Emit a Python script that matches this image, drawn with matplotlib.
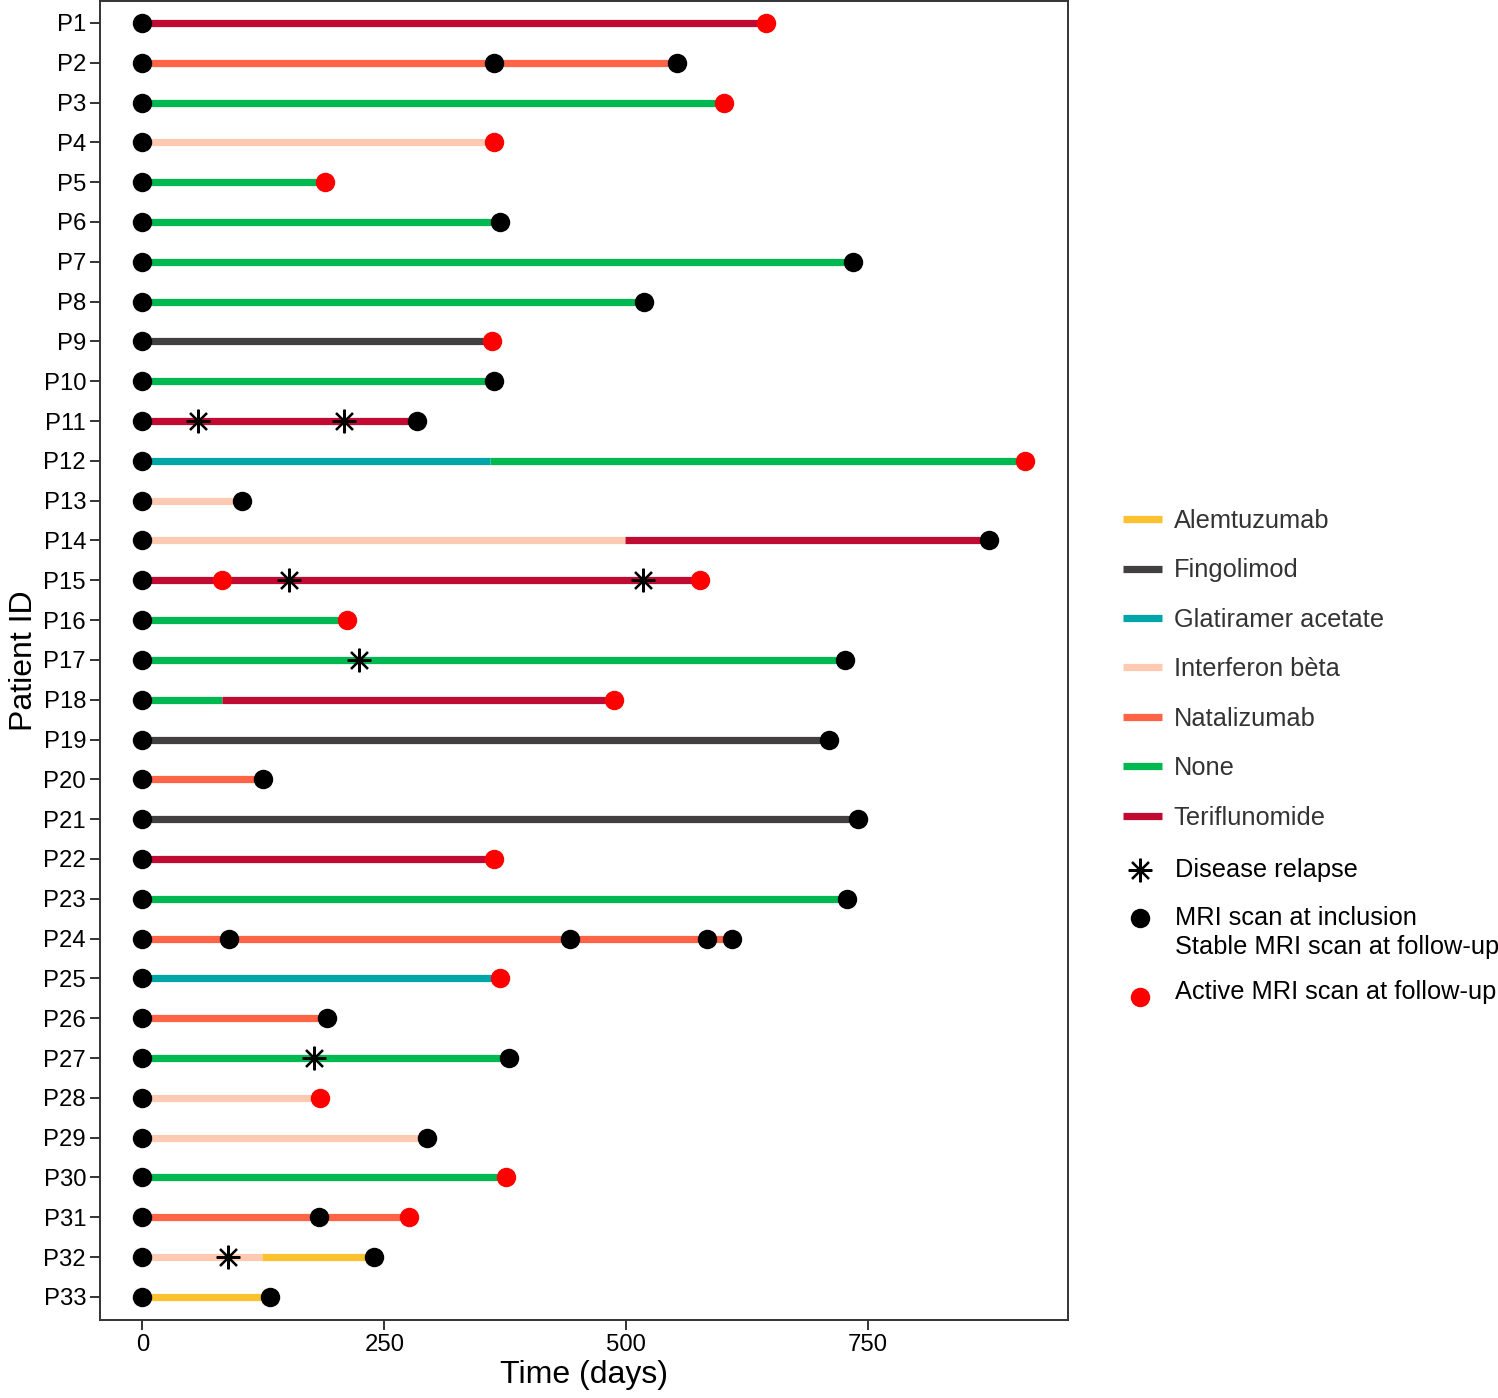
import matplotlib
matplotlib.use("Agg")
import matplotlib.pyplot as plt
from matplotlib.lines import Line2D

plt.rcParams["font.family"] = ["Liberation Sans", "DejaVu Sans"]

PATIENTS = [f"P{i}" for i in range(1, 34)]

TREATMENTS = ["Alemtuzumab", "Fingolimod", "Glatiramer acetate", "Interferon bèta",
              "Natalizumab", "None", "Teriflunomide"]
COLORS = {
    "Alemtuzumab": "#FBC12E",
    "Fingolimod": "#423F41",
    "Glatiramer acetate": "#00A5A8",
    "Interferon bèta": "#FFCAB1",
    "Natalizumab": "#FF6446",
    "None": "#00B850",
    "Teriflunomide": "#C10A32",
}

# treatment segments: (patient, treatment, start, end) in days
SEGMENTS = [
    ("P1", "Teriflunomide", 0, 644),
    ("P2", "Natalizumab", 0, 552),
    ("P3", "None", 0, 601),
    ("P4", "Interferon bèta", 0, 363),
    ("P5", "None", 0, 189),
    ("P6", "None", 0, 370),
    ("P7", "None", 0, 734),
    ("P8", "None", 0, 518),
    ("P9", "Fingolimod", 0, 361),
    ("P10", "None", 0, 363),
    ("P11", "Teriflunomide", 0, 284),
    ("P12", "Glatiramer acetate", 0, 359),
    ("P12", "None", 359, 912),
    ("P13", "Interferon bèta", 0, 103),
    ("P14", "Interferon bèta", 0, 499),
    ("P14", "Teriflunomide", 499, 875),
    ("P15", "Teriflunomide", 0, 576),
    ("P16", "None", 0, 211),
    ("P17", "None", 0, 726),
    ("P18", "None", 0, 82),
    ("P18", "Teriflunomide", 82, 487),
    ("P19", "Fingolimod", 0, 710),
    ("P20", "Natalizumab", 0, 125),
    ("P21", "Fingolimod", 0, 739),
    ("P22", "Teriflunomide", 0, 363),
    ("P23", "None", 0, 728),
    ("P24", "Natalizumab", 0, 609),
    ("P25", "Glatiramer acetate", 0, 370),
    ("P26", "Natalizumab", 0, 191),
    ("P27", "None", 0, 379),
    ("P28", "Interferon bèta", 0, 184),
    ("P29", "Interferon bèta", 0, 294),
    ("P30", "None", 0, 376),
    ("P31", "Natalizumab", 0, 275),
    ("P32", "Interferon bèta", 0, 124),
    ("P32", "Alemtuzumab", 124, 239),
    ("P33", "Alemtuzumab", 0, 132),
]

# stable MRI scans at follow-up (every patient also has one at day 0)
STABLE_MRI = [
    ("P2", 363), ("P2", 552), ("P6", 370), ("P7", 734), ("P8", 518), ("P10", 363),
    ("P11", 284), ("P13", 103), ("P14", 875), ("P17", 726), ("P19", 710),
    ("P20", 125), ("P21", 739), ("P23", 728), ("P24", 90), ("P24", 442),
    ("P24", 583), ("P24", 609), ("P26", 191), ("P27", 379), ("P29", 294),
    ("P31", 182), ("P32", 239), ("P33", 132),
]

ACTIVE_MRI = [
    ("P1", 644), ("P3", 601), ("P4", 363), ("P5", 189), ("P9", 361), ("P12", 912),
    ("P15", 82), ("P15", 576), ("P16", 211), ("P18", 487), ("P22", 363),
    ("P25", 370), ("P28", 184), ("P30", 376), ("P31", 275),
]

RELAPSES = [
    ("P11", 57), ("P11", 208), ("P15", 151), ("P15", 517), ("P17", 224),
    ("P27", 177), ("P32", 88),
]

W, H = 1498, 1398
ASTERISK = (8, 2, 0)

ypos = {p: i + 1 for i, p in enumerate(PATIENTS)}

fig = plt.figure(figsize=(W / 100, H / 100), dpi=100)
ax = fig.add_axes([100 / W, 78 / H, 968 / W, 1319 / H])

for pid, trt, start, end in SEGMENTS:
    ax.plot([start, end], [ypos[pid]] * 2, color=COLORS[trt], lw=5.2,
            solid_capstyle="butt", zorder=2)

ax.plot([0] * len(PATIENTS), [ypos[p] for p in PATIENTS], "o", color="black",
        ms=14, mew=0, zorder=3)
ax.plot([d for _, d in STABLE_MRI], [ypos[p] for p, _ in STABLE_MRI], "o",
        color="black", ms=14, mew=0, zorder=3)
ax.plot([d for _, d in ACTIVE_MRI], [ypos[p] for p, _ in ACTIVE_MRI], "o",
        color="#FF0000", ms=14, mew=0, zorder=3)
ax.plot([d for _, d in RELAPSES], [ypos[p] for p, _ in RELAPSES],
        linestyle="none", marker=ASTERISK, color="black", ms=17, mew=1.6, zorder=4)

ax.set_xlim(-43.8, 956.5)
ax.set_ylim(33.58, 0.45)
ax.set_xticks([0, 250, 500, 750])
ax.set_yticks([ypos[p] for p in PATIENTS])
ax.set_yticklabels(PATIENTS)
ax.tick_params(axis="both", labelsize=17.2, length=7, width=1.4, color="#333333",
               labelcolor="black", pad=3)
for sp in ax.spines.values():
    sp.set_color("#333333")
    sp.set_linewidth(1.4)
ax.set_xlabel("Time (days)", fontsize=23, labelpad=3)
ax.set_ylabel("Patient ID", fontsize=23, labelpad=3)

# treatment legend
trt_handles = [Line2D([], [], color=COLORS[t], lw=5.2, solid_capstyle="butt")
               for t in TREATMENTS]
fig.legend(trt_handles, TREATMENTS, loc="upper left",
           bbox_to_anchor=(1123 / W, 1 - 509 / H), frameon=False, fontsize=18.3,
           handlelength=1.55, handletextpad=0.45, labelspacing=1.0,
           labelcolor="#333333", borderaxespad=0, borderpad=0)

# event legend, laid out like ggplot draws it
def fy(py):
    return 1 - py / H

mx, tx = 1140 / W, 1175 / W
fig.add_artist(Line2D([mx], [fy(870)], linestyle="none", marker=ASTERISK,
                      color="black", ms=17, mew=1.6))
fig.add_artist(Line2D([mx], [fy(918)], linestyle="none", marker="o",
                      color="black", ms=14, mew=0))
fig.add_artist(Line2D([mx], [fy(997)], linestyle="none", marker="o",
                      color="#FF0000", ms=14, mew=0))
fig.text(tx, fy(870), "Disease relapse", fontsize=18.3, va="center")
fig.text(tx, fy(918), "MRI scan at inclusion", fontsize=18.3, va="center")
fig.text(tx, fy(947), "Stable MRI scan at follow-up", fontsize=18.3, va="center")
fig.text(tx, fy(992), "Active MRI scan at follow-up", fontsize=18.3, va="center")

fig.savefig("out.png", dpi=100)
